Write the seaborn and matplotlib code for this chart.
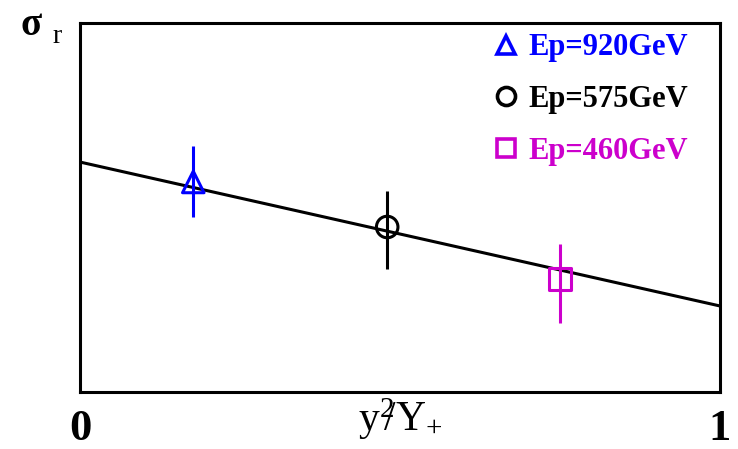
import pandas as pd
import matplotlib.pyplot as plt
import seaborn as sns
from matplotlib.lines import Line2D

# data
labels = ["Ep=920GeV", "Ep=575GeV", "Ep=460GeV"]
x_vals = [0.177, 0.480, 0.750]
y_vals = [0.569, 0.447, 0.306]
y_err_lo = [0.095, 0.114, 0.119]
y_err_hi = [0.098, 0.098, 0.095]
fit_x = [0.0, 1.0]
fit_y = [0.623, 0.233]

colors = ["#0000ff", "#000000", "#cc00cc"]
markers = ["^", "o", "s"]

sns.set_theme(style="white")
plt.rcParams['font.family'] = ['Liberation Serif', 'DejaVu Serif']
plt.rcParams['mathtext.fontset'] = 'custom'
plt.rcParams['mathtext.rm'] = 'Liberation Serif'
plt.rcParams['mathtext.it'] = 'Liberation Serif'
plt.rcParams['text.color'] = 'black'
plt.rcParams['xtick.color'] = 'black'
plt.rcParams['axes.labelcolor'] = 'black'

df = pd.DataFrame({"x": x_vals, "y": y_vals, "label": labels})
fit_df = pd.DataFrame({"x": fit_x, "y": fit_y})

fig = plt.figure(figsize=(7.38, 4.49), dpi=100)
ax = fig.add_axes([0.1084, 0.127, 0.8672, 0.822])

sns.lineplot(data=fit_df, x="x", y="y", ax=ax, color="black", linewidth=2.2)

for i in range(len(labels)):
    ax.errorbar(x_vals[i], y_vals[i], yerr=[[y_err_lo[i]], [y_err_hi[i]]],
                fmt="none", ecolor=colors[i], elinewidth=2.2, capsize=0, zorder=3)

sns.scatterplot(data=df, x="x", y="y", hue="label", style="label",
                palette=colors, markers=markers, s=240, ax=ax, legend=False,
                linewidth=2.2, zorder=4)
# hollow markers with coloured edges
coll = ax.collections[-1]
coll.set_facecolor("none")
coll.set_edgecolor(colors)

ax.set_xlim(0, 1)
ax.set_ylim(0, 1)
ax.set_xticks([0, 1])
ax.set_xticklabels(["0", "1"], fontsize=32, fontweight="bold")
ax.set_yticks([])
ax.tick_params(axis="x", length=0, pad=12)
ax.set_xlabel(r"$\mathrm{y^{2}\!\!/Y_{+}}$", fontsize=30)
ax.xaxis.set_label_coords(0.5, -0.01)
ax.set_ylabel("")
for sp in ax.spines.values():
    sp.set_linewidth(2.2)
    sp.set_color("black")

fig.text(0.028, 0.922, "σ", fontsize=28, fontweight="bold")
fig.text(0.071, 0.905, "r", fontsize=20)

handles = [Line2D([], [], linestyle="none", marker=m, markersize=13,
                  markerfacecolor="none", markeredgecolor=c, markeredgewidth=2.6)
           for m, c in zip(markers, colors)]
ax.legend(handles, labels, loc="upper right", frameon=False,
          prop={"size": 22, "weight": "bold"}, labelcolor=colors,
          handletextpad=0.35, labelspacing=0.75, handlelength=0.8,
          borderaxespad=0.0, bbox_to_anchor=(0.97, 1.005))

fig.savefig("out.png", dpi=100)
